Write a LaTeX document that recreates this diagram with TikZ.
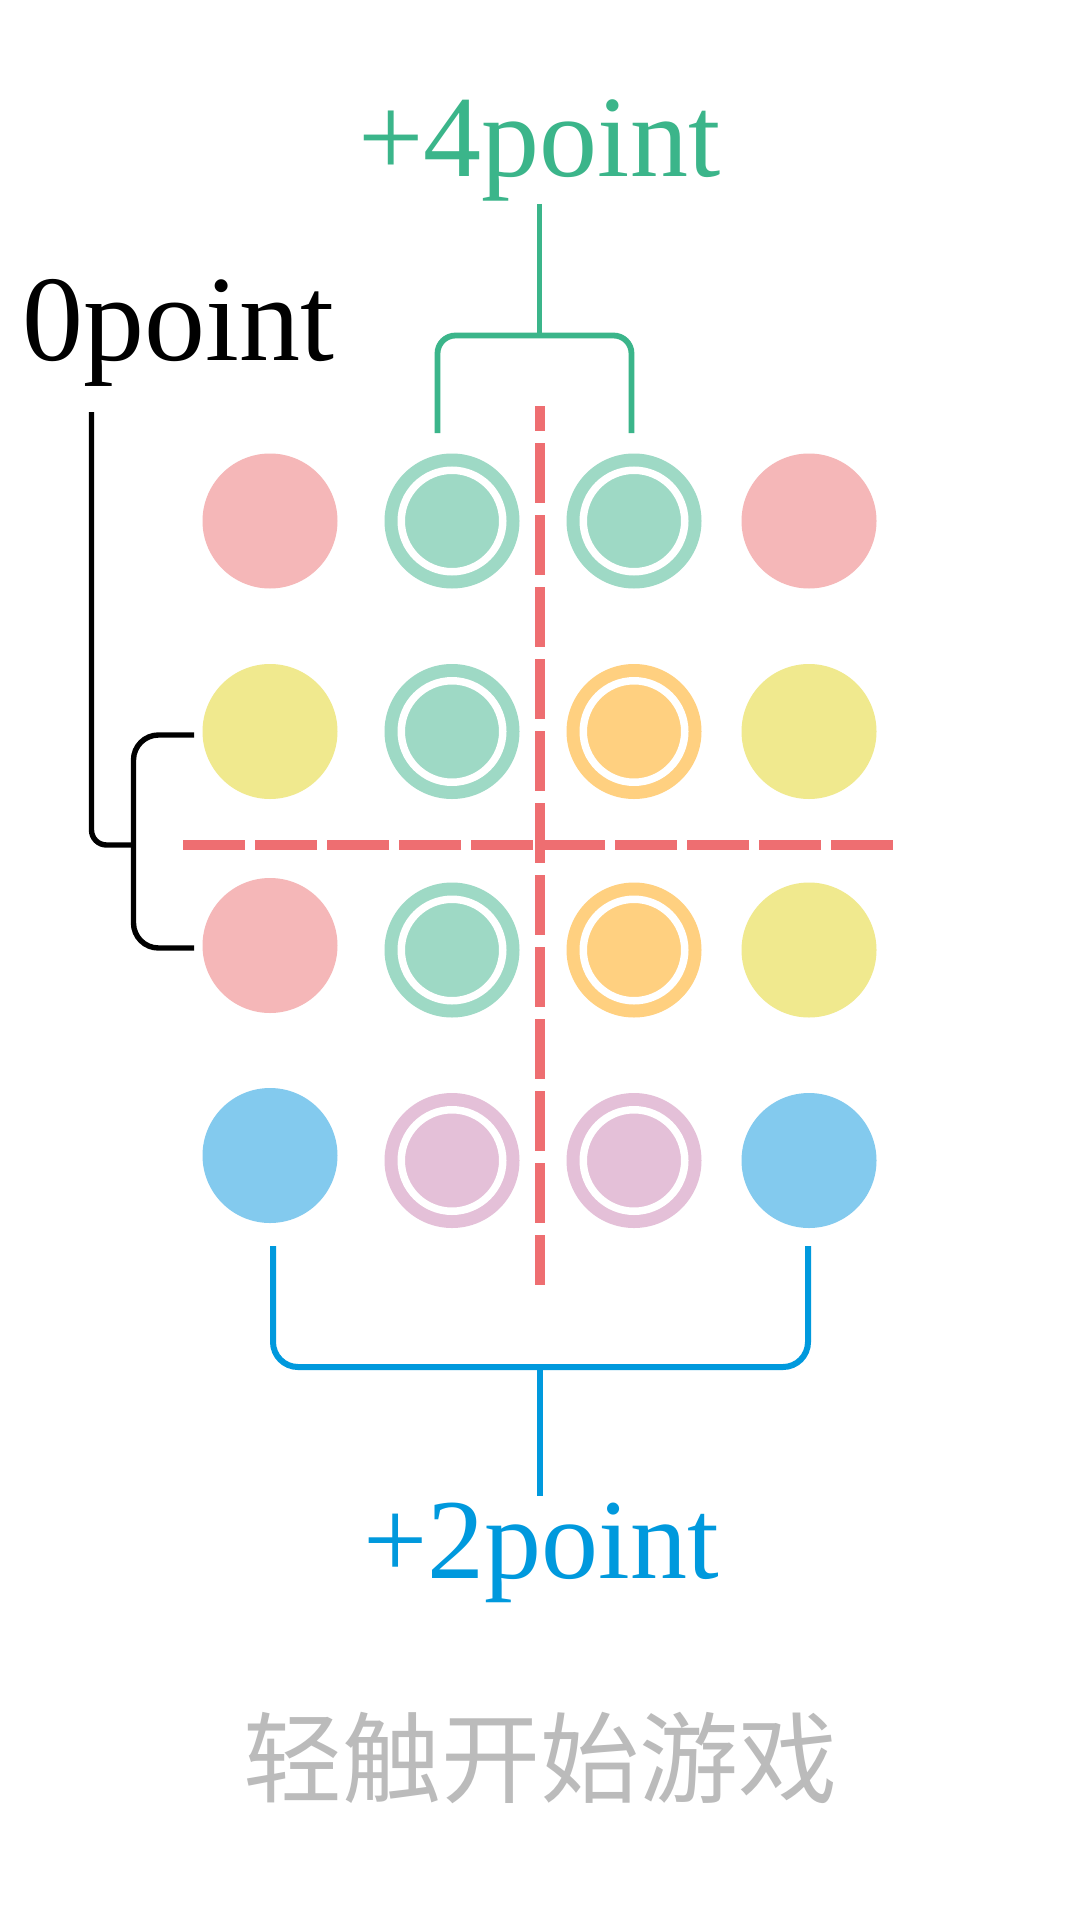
\documentclass[tikz,border=0pt]{standalone}
\usepackage{fontspec}
\setmainfont{Liberation Serif}
\newfontfamily\cjkfont{Noto Sans CJK SC}
\definecolor{cgreen}{HTML}{3BB58A}
\definecolor{cmint}{HTML}{9ED9C5}
\definecolor{cpink}{HTML}{F5B7B8}
\definecolor{cyellow}{HTML}{F0E98E}
\definecolor{corange}{HTML}{FFD080}
\definecolor{csky}{HTML}{83CAEE}
\definecolor{clilac}{HTML}{E4C0D8}
\definecolor{cred}{HTML}{EE6E71}
\definecolor{cblue}{HTML}{0099DD}
\definecolor{cgray}{HTML}{BBBBBB}
\begin{document}
\begin{tikzpicture}[x=0.5pt,y=-0.5pt,
  dot/.style={circle, inner sep=0pt, minimum size=67.5pt, fill=#1},
  ringdot/.style={dot=#1, path picture={\draw[white,line width=3.75pt] (path picture bounding box.center) circle[radius=25.375pt];}},
  ptext/.style={inner sep=0pt, anchor=base west, font=\fontsize{#1}{#1}\selectfont},
  gline/.style={draw=cgreen, line width=2.9pt},
  kline/.style={draw=black, line width=2.7pt},
  bline/.style={draw=cblue, line width=3pt},
  reddash/.style={draw=cred, line width=5pt}
]
\useasboundingbox (0,0) rectangle (1080,1920);
\fill[white] (0,0) rectangle (1080,1920);

% titles
\node[ptext=58pt, text=cgreen] (t4) at (358,177) {+4point};
\node[ptext=61pt, text=black] (t0) at (22,360) {0point};
\node[ptext=57pt, text=cblue] (t2) at (363,1578) {+2point};

% circles
\node[dot=cpink]      (c11) at (270,521) {};
\node[ringdot=cmint]  (c12) at (452,521) {};
\node[ringdot=cmint]  (c13) at (634,521) {};
\node[dot=cpink]      (c14) at (809,521) {};

\node[dot=cyellow]     (c21) at (270,731.5) {};
\node[ringdot=cmint]   (c22) at (452,731.5) {};
\node[ringdot=corange] (c23) at (634,731.5) {};
\node[dot=cyellow]     (c24) at (809,731.5) {};

\node[dot=cpink]       (c31) at (270,945.5) {};
\node[ringdot=cmint]   (c32) at (452,950) {};
\node[ringdot=corange] (c33) at (634,950) {};
\node[dot=cyellow]     (c34) at (809,950) {};

\node[dot=csky]        (c41) at (270,1155.5) {};
\node[ringdot=clilac]  (c42) at (452,1160.5) {};
\node[ringdot=clilac]  (c43) at (634,1160.5) {};
\node[dot=csky]        (c44) at (809,1160.5) {};

% dashed dividers
\coordinate (rT) at (540,406);
\coordinate (rB) at (540,1285);
\coordinate (hL) at (183,845);
\coordinate (hR) at (893,845);
\draw[reddash, dash pattern=on 31pt off 5pt] (hL) -- (hR);
\draw[reddash, dash pattern=on 30pt off 6pt, dash phase=17.5pt] (rT) -- (rB);

% green bracket
\coordinate (gS) at (539.5,204);
\coordinate (gJ) at (539.5,335.5);
\coordinate (gL) at (437.5,433);
\coordinate (gR) at (631.5,433);
\draw[gline] (gS) -- (gJ);
\draw[gline, rounded corners=9pt] (gL) |- (gJ) -| (gR);

% black bracket
\coordinate (kS) at (91.5,412);
\coordinate (kJ) at (133.5,845);
\coordinate (kT) at (194,735);
\coordinate (kB) at (194,948);
\draw[kline, rounded corners=7.5pt] (kS) |- (kJ);
\draw[kline, rounded corners=12.5pt] (kT) -| (kJ) |- (kB);

% blue bracket
\coordinate (bL) at (273,1246);
\coordinate (bR) at (808,1246);
\coordinate (bJ) at (540,1367);
\coordinate (bE) at (540,1496);
\draw[bline, rounded corners=12.5pt] (bL) |- (bJ) -| (bR);
\draw[bline] (bJ) -- (bE);

% bottom caption
\node[inner sep=0pt, text=cgray, font=\cjkfont\fontsize{49.5pt}{49.5pt}\selectfont] (start) at (540,1758) {轻触开始游戏};
\end{tikzpicture}
\end{document}
